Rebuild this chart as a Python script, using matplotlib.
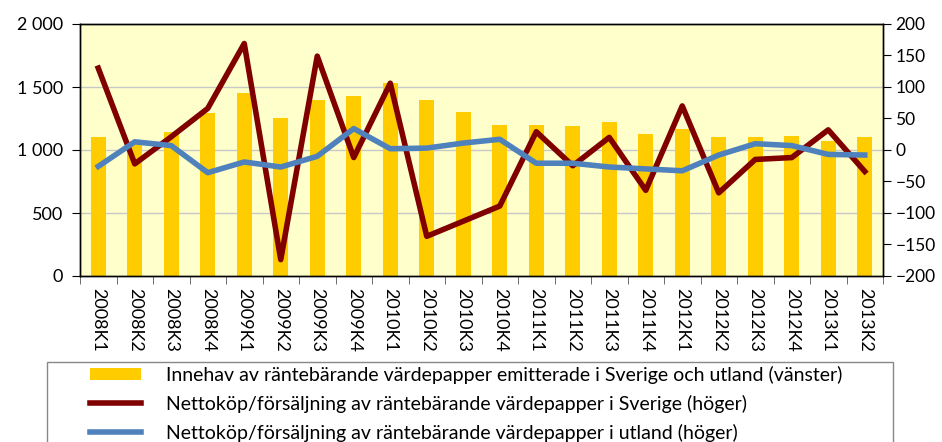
import matplotlib.pyplot as plt
import numpy as np
from matplotlib.ticker import FuncFormatter
from matplotlib.patches import Rectangle

plt.rcParams['font.family'] = ['Lato', 'DejaVu Sans']

quarters = ["2008K1", "2008K2", "2008K3", "2008K4", "2009K1", "2009K2", "2009K3", "2009K4",
            "2010K1", "2010K2", "2010K3", "2010K4", "2011K1", "2011K2", "2011K3", "2011K4",
            "2012K1", "2012K2", "2012K3", "2012K4", "2013K1", "2013K2"]

# holdings, left axis
innehav = [1100, 1060, 1145, 1290, 1450, 1255, 1395, 1430, 1535, 1400, 1300, 1200,
           1200, 1190, 1220, 1125, 1170, 1100, 1100, 1110, 1070, 1100]
# net purchases, right axis
netto_sverige = [130, -22, 21, 66, 169, -174, 149, -12, 106, -137, -113, -89,
                 29, -25, 20, -64, 70, -68, -15, -12, 32, -34]
netto_utland = [-26, 13, 7, -36, -19, -27, -10, 34, 2, 3, 11, 17,
                -21, -21, -27, -30, -33, -8, 10, 7, -7, -8]

labels = ["Innehav av räntebärande värdepapper emitterade i Sverige och utland (vänster)",
          "Nettoköp/försäljning av räntebärande värdepapper i Sverige (höger)",
          "Nettoköp/försäljning av räntebärande värdepapper i utland (höger)"]

x = np.arange(len(quarters))

fig = plt.figure(figsize=(9.42, 4.42), dpi=100)
ax = fig.add_axes([80 / 942, 1 - 276 / 442, 803 / 942, 252 / 442])
ax.set_facecolor("#FFFFCC")

bars = ax.bar(x, innehav, width=0.4, color="#FFCC00", zorder=2)
ax.set_ylim(0, 2000)
ax.set_xlim(-0.5, len(quarters) - 0.5)
ax.set_yticks([0, 500, 1000, 1500, 2000])
ax.yaxis.set_major_formatter(FuncFormatter(lambda v, p: f"{int(v):,}".replace(",", " ")))
for yv in [500, 1000, 1500]:
    ax.axhline(yv, color="#C8C8C8", lw=1, zorder=1)

ax2 = ax.twinx()
l1, = ax2.plot(x, netto_sverige, color="#800000", lw=4, zorder=3)
l2, = ax2.plot(x, netto_utland, color="#4F81BD", lw=4, zorder=4)
ax2.set_ylim(-200, 200)
ax2.set_yticks(range(-200, 201, 50))

ax.set_xticks(x)
ax.set_xticklabels(quarters, rotation=-90, fontsize=13)
ax.tick_params(axis="x", which="major", length=0, pad=9)
ax.set_xticks(np.arange(-0.5, len(quarters), 1), minor=True)
ax.tick_params(axis="x", which="minor", length=6, color="#555555")
ax.tick_params(axis="y", labelsize=13, length=6, direction="out", pad=6)
ax2.tick_params(axis="y", labelsize=12.5, length=6, direction="out", pad=3)

for a in (ax, ax2):
    for s in a.spines.values():
        s.set_color("black")
        s.set_linewidth(1)

# legend frame, runs past the bottom edge like in the original
fig.patches.append(Rectangle((47 / 942, -0.1), 846 / 942, 0.1 + (442 - 362) / 442,
                             transform=fig.transFigure, fill=False,
                             edgecolor="#888888", lw=1))
fig.legend([bars, l1, l2], labels, loc="upper left",
           bbox_to_anchor=(90 / 942, 1 - 366 / 442),
           fontsize=14, frameon=False, handlelength=2.6, handleheight=0.6,
           handletextpad=1.3, borderpad=0, labelspacing=0.55, borderaxespad=0)

fig.savefig("out.png", dpi=100)
